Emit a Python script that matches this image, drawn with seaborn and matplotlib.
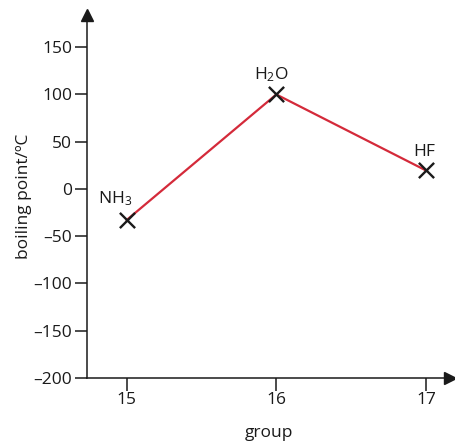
import pandas as pd
import numpy as np
import seaborn as sn
import matplotlib.pyplot as plt

# data
groups = [15, 16, 17]
boiling = [-33, 100, 19.5]
names = ['NH$_3$', 'H$_2$O', 'HF']
yticks = [150, 100, 50, 0, -50, -100, -150, -200]

df = pd.DataFrame({'group': groups, 'boiling': boiling, 'name': names})

sn.set_style('white')
plt.rcParams['font.family'] = ['Open Sans', 'DejaVu Sans']
plt.rcParams['mathtext.fontset'] = 'custom'
plt.rcParams['mathtext.rm'] = 'Open Sans'
plt.rcParams['mathtext.it'] = 'Open Sans'

ink = '#1a1a1a'

fig = plt.figure(figsize=(4.55, 4.44), dpi=100)
ax = fig.add_axes([0.191, 0.149, 0.798, 0.817])

sn.lineplot(data=df, x='group', y='boiling', color='#d42a3a', linewidth=1.6, ax=ax, zorder=2)
sn.scatterplot(data=df, x='group', y='boiling', marker='x', s=120, color=ink,
               linewidth=1.7, ax=ax, zorder=3)

# labels next to the points
offsets = [(-0.08, 13), (-0.03, 11), (-0.01, 11)]
for (g, b, n), (dx, dy) in zip(zip(groups, boiling, names), offsets):
    ax.text(g + dx, b + dy, n, fontsize=12.5, color=ink, ha='center', va='bottom')

ax.set_xlim(14.735, 17.16)
ax.set_ylim(-200, 184)
ax.set_xticks(groups)
ax.set_yticks(yticks)
ax.set_xticklabels([str(g) for g in groups], fontsize=12.5)
ax.set_yticklabels([str(t).replace('-', '\u2013') for t in yticks], fontsize=12.5)

for s in ['top', 'right']:
    ax.spines[s].set_visible(False)
for s in ['left', 'bottom']:
    ax.spines[s].set_color(ink)
    ax.spines[s].set_linewidth(1.1)
ax.tick_params(axis='both', direction='out', length=9, width=1.1, color=ink,
               labelcolor=ink, pad=1.5, left=True, bottom=True)

# arrow heads on the axes
ax.plot(1, 0, marker='>', ms=8, color=ink, transform=ax.transAxes, clip_on=False)
ax.plot(0, 1, marker='^', ms=8, color=ink, transform=ax.transAxes, clip_on=False)

ax.set_xlabel('group', fontsize=12.5, color=ink, labelpad=12)
ax.set_ylabel('boiling point/ºC', fontsize=12.5, color=ink, labelpad=1)

plt.savefig('out.png', dpi=100)
plt.close()
